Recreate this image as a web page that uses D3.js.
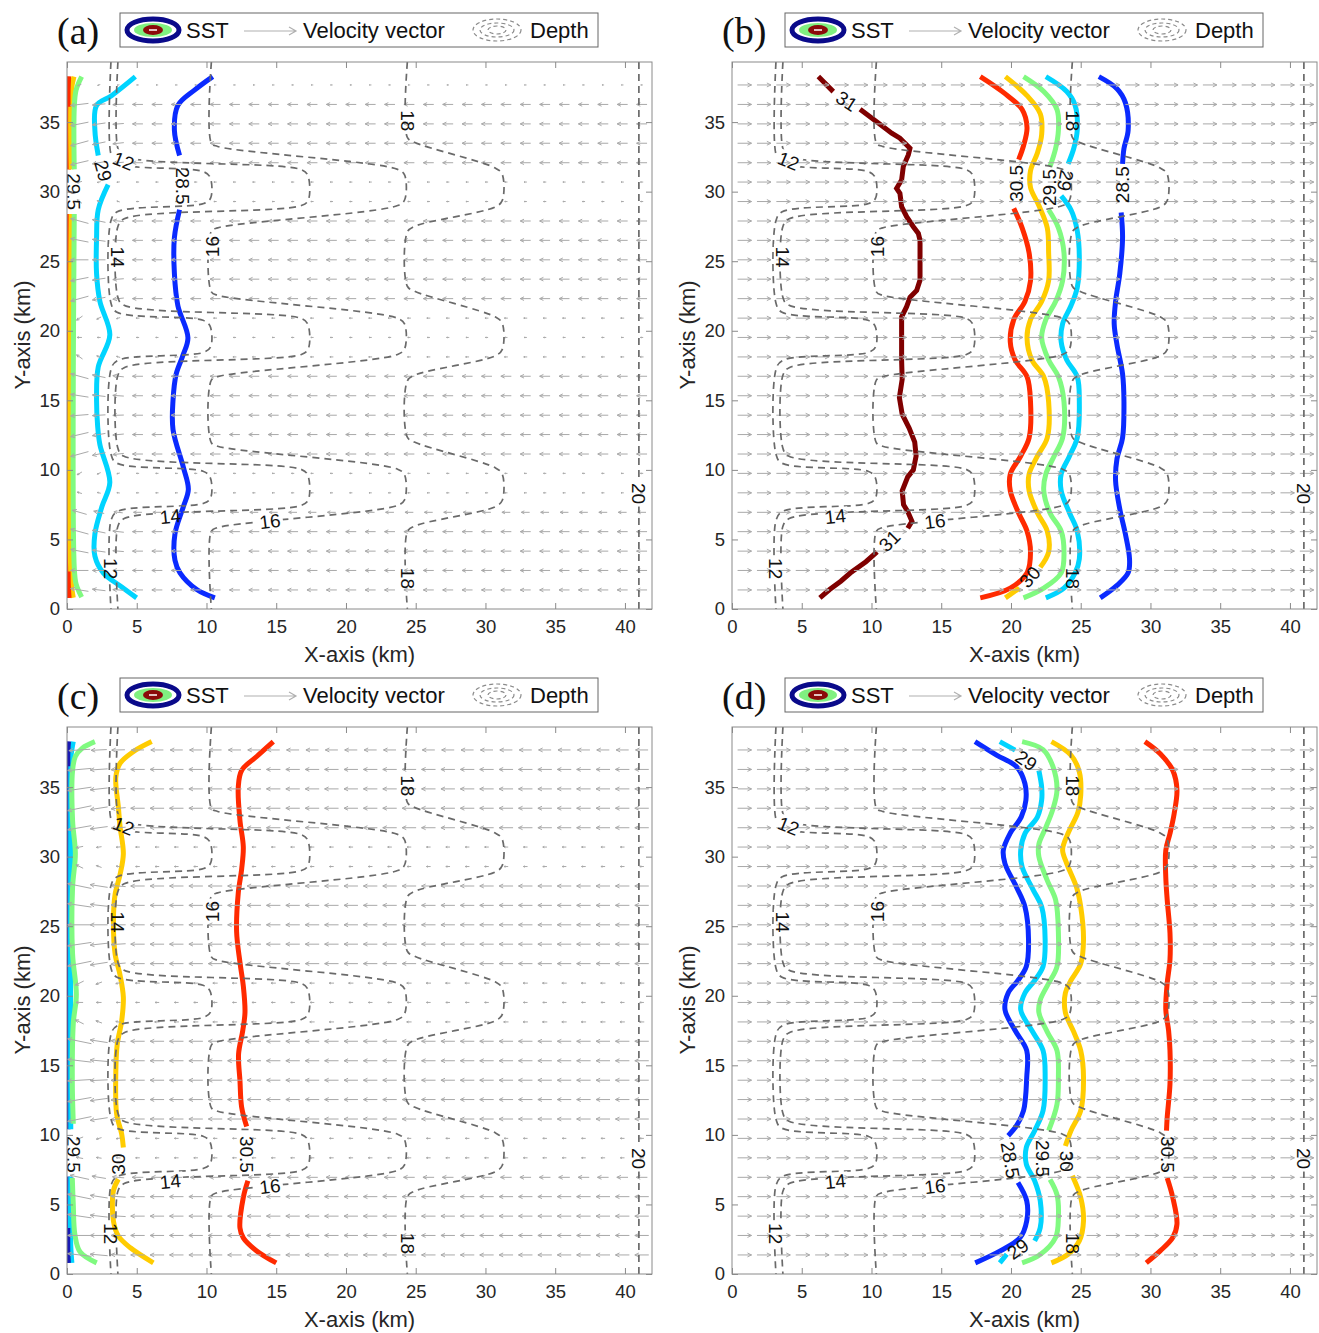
<!DOCTYPE html>
<html>
<head>
<meta charset="utf-8">
<script src="https://cdn.jsdelivr.net/npm/d3@7"></script>
<style>
  body { margin: 0; background: #fff; }
  svg text { font-family: "Liberation Sans", Arial, Helvetica, sans-serif; }
</style>
</head>
<body>
<svg id="viz" width="1319" height="1333"></svg>
<script>
// ---- axes ----
const xMax = 41.94, yMax = 39.32;
const xTicks = [0, 5, 10, 15, 20, 25, 30, 35, 40];
const yTicks = [0, 5, 10, 15, 20, 25, 30, 35];
const panelNames = ['(a)', '(b)', '(c)', '(d)'];

// ---- velocity grid (km) ----
const rowsY = [1.37, 2.77, 4.16, 5.56, 6.95, 8.35, 9.75, 11.14, 12.54, 13.93, 15.33, 16.73, 18.12, 19.52,
  20.91, 22.31, 23.71, 25.10, 26.50, 27.89, 29.29, 30.69, 32.08, 33.48, 34.87, 36.27, 37.67];
const colsX = [0.90, 2.29, 3.68, 5.07, 6.46, 7.85, 9.24, 10.63, 12.02, 13.41, 14.80, 16.19, 17.58, 18.97,
  20.36, 21.75, 23.14, 24.53, 25.92, 27.31, 28.70, 30.09, 31.48, 32.87, 34.26, 35.65, 37.04, 38.43, 39.82, 41.21];
// u per row (km of arrow), negative = toward the coast
const uA = [-0.75, -0.75, -0.75, -0.75, -0.6, -0.2, -0.2, -0.75, -0.75, -0.75, -0.75, -0.75, -0.25, -0.2,
  -0.25, -0.75, -0.75, -0.75, -0.75, -0.75, -0.2, -0.2, -0.75, -0.75, -0.75, -0.75, -0.15];
const uB = [1.0, 1.0, 1.0, 1.0, 1.0, 1.0, 1.0, 1.0, 1.0, 1.0, 1.0, 1.0, 1.0, 1.0,
  1.0, 1.0, 1.0, 1.0, 1.0, 1.0, 1.0, 1.0, 1.0, 1.0, 1.0, 1.0, 1.0];
const uC = [-1.0, -1.0, -1.0, -1.0, -0.8, -0.3, -0.3, -1.0, -1.0, -1.0, -1.0, -1.0, -0.35, -0.3,
  -0.35, -1.0, -1.0, -1.0, -1.0, -1.0, -0.3, -0.3, -1.0, -1.0, -1.0, -1.0, -0.9];
const uD = uB;
// alongshore component near the coast (first columns)
const vA = [0.2, 0.0, 0.25, 0.35, 0.3, 0.1, -0.2, -0.35, -0.3, -0.1, 0.2, 0.35, 0.3, 0.0,
  -0.3, -0.35, -0.25, 0.0, 0.25, 0.35, 0.25, -0.1, -0.3, -0.35, -0.25, -0.15, -0.1];
const vC = vA;
const coastFade = [1, 0.55, 0.25];
const coastGain = [1.7, 1.25, 1.05];

// ---- depth contours (m), vertices in km ----
const depth12 = [[3.15, 39.32],
  [3.15, 32.7], [3.55, 32.05], [9.75, 31.45], [10.25, 31.05], [10.3, 29.55], [9.8, 29.15], [3.6, 28.55], [3.15, 27.9],
  [3.15, 22.0], [3.55, 21.35], [9.75, 20.75], [10.25, 20.35], [10.3, 18.85], [9.8, 18.45], [3.6, 17.85], [3.15, 17.2],
  [3.15, 11.15], [3.55, 10.5], [9.75, 9.9], [10.25, 9.5], [10.3, 8.0], [9.8, 7.6], [3.6, 7.0], [3.15, 6.35],
  [3.15, 0]];
const depth14 = [[3.65, 39.32],
  [3.65, 33.1], [4.05, 32.55], [16.75, 31.6], [17.25, 31.2], [17.3, 29.4], [16.8, 29.0], [4.1, 28.05], [3.65, 27.5],
  [3.65, 22.4], [4.05, 21.85], [16.75, 20.9], [17.25, 20.5], [17.3, 18.7], [16.8, 18.3], [4.1, 17.35], [3.65, 16.8],
  [3.65, 11.55], [4.05, 11.0], [16.75, 10.05], [17.25, 9.65], [17.3, 7.85], [16.8, 7.45], [4.1, 6.5], [3.65, 5.95],
  [3.65, 0]];
const depth16 = [[10.35, 39.32],
  [10.35, 33.5], [10.8, 33.25], [23.7, 31.6], [24.2, 31.2], [24.2, 29.4], [23.7, 29.0], [10.8, 27.4], [10.35, 27.15],
  [10.35, 22.8], [10.8, 22.55], [23.7, 20.9], [24.2, 20.5], [24.2, 18.7], [23.7, 18.3], [10.8, 16.7], [10.35, 16.45],
  [10.35, 11.95], [10.8, 11.7], [23.7, 10.05], [24.2, 9.65], [24.2, 7.85], [23.7, 7.45], [10.8, 5.85], [10.35, 5.6],
  [10.35, 0]];
const depth18 = [[24.4, 39.32],
  [24.4, 33.9], [24.9, 33.55], [30.7, 31.7], [31.2, 31.25], [31.2, 29.35], [30.7, 28.9], [24.9, 27.5], [24.4, 27.1],
  [24.4, 23.2], [24.9, 22.85], [30.7, 21.0], [31.2, 20.55], [31.2, 18.65], [30.7, 18.2], [24.9, 16.8], [24.4, 16.4],
  [24.4, 12.35], [24.9, 12.0], [30.7, 10.15], [31.2, 9.7], [31.2, 7.8], [30.7, 7.35], [24.9, 5.95], [24.4, 5.55],
  [24.4, 0]];
const depth20 = [[41.0, 0], [41.0, 39.32]];
const depthLines = [depth12, depth14, depth16, depth18, depth20];
const depthLabels = [
  { t: '12', x: 4.05, y: 32.2, r: 22 }, { t: '14', x: 3.65, y: 25.3, r: 90 }, { t: '16', x: 10.4, y: 26.05, r: -90 },
  { t: '18', x: 24.4, y: 35.1, r: 90 }, { t: '14', x: 7.4, y: 6.65, r: -6 }, { t: '16', x: 14.55, y: 6.3, r: -7 },
  { t: '12', x: 3.15, y: 2.9, r: 90 }, { t: '18', x: 24.4, y: 2.2, r: 90 }, { t: '20', x: 41.0, y: 8.3, r: 90 }];

// ---- SST contours (deg C), null = label gap ----
// (a)
const a305 = [[0.1, 38.27], [0.1, 31.6], null, [0.1, 28.4], [0.1, 0.8]];
const a305ends = [[0.12, 38.27], [0.08, 37.3], [0.08, 36.1], null, [0.08, 2.7], [0.1, 1.6], [0.15, 0.8]];
const a300 = [[0.5, 38.27], [0.32, 37.3], [0.3, 31.6], null, [0.3, 28.4], [0.3, 2.0], [0.45, 0.8]];
const a295 = [[1.05, 38.27], [0.65, 37.3], [0.52, 36.0], [0.52, 31.6], null, [0.52, 28.4], [0.52, 3.0], [0.65, 1.8], [1.05, 0.85]];
const a290 = [[4.9, 38.27], [3.19, 36.9], [2.12, 36.2], [2.0, 34.4], [2.24, 32.6], null, [2.95, 30.5], [2.24, 28.7],
  [2.12, 26.7], [2.12, 24.1], [2.36, 22.1], [3.07, 19.7], [2.24, 17.4], [2.12, 15.1], [2.2, 13.1], [2.36, 11.8],
  [3.07, 9.1], [2.5, 7.35], [2.0, 5.4], [2.0, 3.8], [2.6, 2.6], [3.9, 1.6], [4.99, 0.8]];
const a285 = [[10.45, 38.27], [9.14, 37.3], [7.95, 36.2], [7.7, 34.4], [8.07, 32.6], null, [8.07, 28.7], [7.7, 26.7],
  [7.7, 24.1], [7.95, 21.8], [8.67, 19.5], [8.3, 18.2], [7.83, 16.9], [7.6, 15.0], [7.6, 12.9], [8.34, 10.2],
  [8.7, 8.6], [8.34, 7.35], [7.74, 5.4], [7.74, 3.5], [8.1, 2.6], [9.3, 1.4], [10.6, 0.8]];
// (b)
const b310 = [[6.19, 38.27], [7.26, 37.19], null, [9.18, 35.92], [10.37, 35.03], [11.45, 34.2], [12.04, 33.84],
  [12.76, 33.12], [12.64, 32.64], [12.28, 31.8], [12.16, 30.84], [11.8, 30.24], [12.04, 29.88], [12.16, 28.92],
  [12.52, 28.2], [13.0, 27.48], [13.36, 27.0], [13.48, 26.5], [13.48, 23.65], [13.24, 22.9], [12.76, 22.4],
  [12.52, 21.73], [12.16, 21.0], [12.16, 17.9], [12.2, 16.5], [12.0, 15.2], [12.2, 14.0], [12.7, 13.0],
  [13.1, 12.0], [13.2, 11.0], [13.0, 10.0], [12.6, 9.5], [12.2, 8.5], [12.3, 7.5], [12.6, 7.0], [12.9, 6.3],
  [12.6, 5.8], null, [10.4, 4.1], [9.6, 3.4], [8.5, 2.6], [7.8, 2.0], [7.0, 1.4], [6.3, 0.8]];
const b305 = [[17.8, 38.27], [19.5, 37.1], [20.8, 35.9], [21.15, 34.6], [20.9, 33.3], [20.55, 32.3], null,
  [20.2, 28.8], [20.8, 27.4], [21.3, 25.6], [21.4, 23.6], [21.0, 22.1], [20.2, 20.8], [19.95, 19.2], [20.3, 17.9],
  [21.15, 16.7], [21.4, 14.9], [21.3, 12.3], [20.7, 11.0], [19.95, 9.7], [19.95, 8.5], [20.55, 6.9], [21.15, 5.6],
  [21.4, 4.1], [21.15, 2.6], [19.95, 1.5], [17.8, 0.8]];
const b300 = [[19.6, 38.27], [21.15, 36.9], [22.1, 35.6], [22.2, 34.1], [21.9, 32.8], [21.4, 31.5], [21.4, 30.3],
  [22.0, 29.0], [22.6, 27.4], [22.7, 25.6], [22.7, 23.6], [22.2, 22.1], [21.4, 20.8], [21.15, 19.5], [21.5, 17.9],
  [22.35, 16.7], [22.7, 14.9], [22.6, 12.3], [21.9, 11.0], [21.3, 9.7], [21.3, 8.5], [21.9, 6.9], [22.6, 5.6],
  [22.7, 4.1], [22.1, 3.0], null, [20.6, 1.5], [19.6, 0.8]];
const b295 = [[20.9, 38.27], [22.35, 37.2], [23.3, 35.9], [23.4, 34.4], [23.2, 33.1], [22.8, 31.8], null,
  [22.7, 28.7], [23.4, 27.4], [23.8, 25.6], [23.7, 23.6], [23.2, 22.1], [22.5, 20.8], [22.2, 19.5], [22.7, 17.9],
  [23.4, 16.7], [23.8, 14.9], [23.7, 12.3], [23.1, 11.0], [22.5, 9.7], [22.35, 8.5], [22.8, 6.9], [23.6, 5.6],
  [23.8, 4.1], [23.6, 2.6], [22.35, 1.5], [20.9, 0.8]];
const b290 = [[22.5, 38.27], [24.0, 37.2], [24.6, 36.2], [24.75, 34.4], [24.5, 33.1], [24.1, 32.0], null,
  [23.6, 29.7], [24.3, 28.7], [24.75, 27.2], [24.9, 25.1], [24.75, 23.1], [24.3, 21.8], [23.7, 20.5], [23.6, 19.2],
  [24.0, 17.9], [24.75, 16.7], [24.9, 14.9], [24.75, 12.3], [24.2, 11.0], [23.6, 9.7], [23.6, 8.5], [24.2, 6.9],
  [24.75, 5.6], [24.9, 3.6], [24.6, 2.6], [23.8, 1.5], [22.5, 0.8]];
const b285 = [[26.3, 38.27], [27.6, 37.4], [28.2, 36.4], [28.4, 34.4], [28.1, 33.1], [28.0, 32.0], null,
  [27.9, 28.5], [28.0, 26.7], [27.8, 24.1], [27.5, 22.1], [27.4, 20.5], [27.6, 19.0], [28.0, 16.9], [28.1, 14.9],
  [28.0, 12.3], [27.6, 10.8], [27.5, 9.2], [27.8, 7.2], [28.2, 5.4], [28.5, 3.6], [28.4, 2.6], [27.6, 1.7], [26.4, 0.8]];
// (c)
const c285 = [[0.1, 38.27], [0.08, 37.0], [0.08, 10.4], null, [0.08, 7.0], [0.08, 1.5], [0.1, 0.8]];
const c285ends = [[0.1, 38.27], [0.06, 37.4], [0.06, 36.5], null, [0.06, 3.3], [0.06, 1.5], [0.1, 0.8]];
const c290 = [[0.45, 38.27], [0.3, 37.3], [0.27, 36.0], [0.27, 10.4], null, [0.27, 7.0], [0.27, 2.0], [0.35, 0.8]];
const c295 = [[2.0, 38.27], [1.1, 37.8], [0.6, 37.2], [0.4, 36.2], [0.4, 32.6], [0.6, 30.2], [0.4, 27.8],
  [0.4, 23.0], [0.67, 20.1], [0.45, 18.0], [0.38, 13.9], [0.45, 10.8], null, [0.38, 6.9], [0.45, 5.0],
  [0.57, 2.8], [0.93, 1.6], [2.13, 0.8]];
const c300 = [[6.07, 38.27], [4.75, 37.54], [3.8, 36.7], [3.5, 35.7], [3.68, 33.6], [3.8, 32.2], [4.04, 30.2],
  [3.8, 28.7], [3.45, 27.3], [3.33, 25.4], [3.45, 23.0], [3.8, 21.5], [4.04, 19.9], [3.92, 18.2], [3.6, 16.5],
  [3.5, 14.5], [3.56, 11.5], [3.92, 10.06], [4.04, 9.1], null, [3.68, 6.82], [3.33, 6.0], [3.33, 3.8],
  [3.68, 2.73], [4.52, 1.9], [6.19, 0.8]];
const c305 = [[14.79, 38.27], [13.6, 37.2], [12.52, 36.2], [12.28, 35.0], [12.4, 32.6], [12.64, 30.7],
  [12.52, 29.1], [12.28, 27.4], [12.16, 24.6], [12.4, 22.4], [12.64, 20.7], [12.76, 18.8], [12.6, 17.5],
  [12.3, 15.8], [12.4, 13.9], [12.52, 12.0], [12.88, 10.6], null, [12.97, 6.7], [12.64, 5.5], [12.4, 3.3],
  [12.64, 2.6], [13.6, 1.66], [15.0, 0.8]];
// (d)
const d285 = [[17.42, 38.27], [18.97, 37.3], [20.4, 36.46], [21.0, 35.26], [21.07, 34.06], [20.74, 32.86],
  [19.93, 31.66], [19.45, 30.46], [19.57, 29.5], [20.4, 27.8], [21.0, 26.4], [21.26, 24.0], [21.1, 22.1],
  [20.5, 21.1], [19.8, 20.2], [19.57, 19.0], [20.3, 17.5], [21.13, 16.06], [21.13, 14.14], [20.9, 11.74],
  [20.4, 10.66], [19.8, 9.94], null, [20.5, 6.58], [21.13, 5.26], [21.13, 3.82], [20.66, 2.62], [19.23, 1.66],
  [17.44, 0.8]];
const d290 = [[19.2, 38.27], [20.3, 37.66], null, [22.0, 36.2], [22.2, 35.0], [22.2, 34.06], [21.9, 32.86],
  [21.0, 31.66], [20.7, 30.46], [20.8, 29.26], [21.6, 27.6], [22.2, 26.4], [22.45, 24.0], [22.3, 22.1],
  [21.7, 21.1], [21.0, 20.2], [20.7, 19.0], [21.5, 17.5], [22.3, 16.06], [22.45, 14.14], [22.3, 11.74],
  [21.7, 10.3], [21.1, 9.1], [21.1, 7.9], [21.7, 6.7], [22.1, 5.26], [22.1, 3.34], [21.7, 2.38], null,
  [19.7, 1.42], [19.2, 0.8]];
const d295 = [[20.8, 38.27], [22.3, 37.7], [23.0, 36.5], [23.3, 34.8], [23.0, 33.4], [22.5, 32.1], [22.0, 30.9],
  [22.0, 30.0], [22.6, 28.3], [23.2, 26.9], [23.4, 24.5], [23.3, 22.1], [22.7, 20.9], [22.1, 19.7], [22.0, 18.8],
  [22.6, 17.4], [23.3, 16.06], [23.4, 14.14], [23.3, 12.2], [22.7, 10.3], null, [22.8, 6.8], [23.3, 5.7],
  [23.4, 4.06], [23.2, 2.62], [22.1, 1.4], [20.8, 0.8]];
const d300 = [[22.9, 38.27], [24.3, 37.3], [24.9, 36.1], [25.0, 34.4], [24.8, 33.2], [24.1, 31.7], [23.7, 30.5],
  [24.0, 29.5], [24.7, 27.8], [25.0, 26.4], [25.2, 24.0], [25.0, 22.3], [24.3, 21.1], [23.9, 20.2], [23.9, 18.8],
  [24.5, 17.4], [25.0, 16.06], [25.2, 14.14], [25.0, 11.74], [24.3, 10.3], [23.9, 9.2], null, [24.4, 7.06],
  [25.0, 5.5], [25.2, 3.82], [24.9, 2.38], [24.1, 1.42], [22.9, 0.8]];
const d305 = [[29.6, 38.27], [30.7, 37.4], [31.6, 36.2], [31.9, 34.8], [31.7, 33.1], [31.4, 31.66], [31.1, 30.46],
  [31.1, 28.5], [31.2, 26.9], [31.4, 24.5], [31.4, 22.6], [31.2, 20.9], [31.1, 19.0], [31.3, 17.5], [31.4, 16.06],
  [31.4, 13.66], [31.2, 11.26], [31.15, 10.3], null, [31.2, 6.9], [31.6, 5.5], [31.9, 3.58], [31.6, 2.62],
  [30.7, 1.66], [29.7, 0.8]];

const sstLabelsA = [{ t: '29.5', x: 0.5, y: 30.0, r: 90 }, { t: '29', x: 2.6, y: 31.5, r: 75 }, { t: '28.5', x: 8.3, y: 30.4, r: 90 }];
const sstLabelsB = [{ t: '31', x: 8.22, y: 36.5, r: 33 }, { t: '31', x: 11.3, y: 4.9, r: -45 },
  { t: '30.5', x: 20.35, y: 30.6, r: -90 }, { t: '29.5', x: 22.75, y: 30.3, r: -90 }, { t: '29', x: 23.9, y: 30.8, r: 100 },
  { t: '28.5', x: 27.95, y: 30.5, r: -90 }, { t: '30', x: 21.35, y: 2.3, r: -50 }];
const sstLabelsC = [{ t: '29.5', x: 0.45, y: 8.6, r: 90 }, { t: '30', x: 3.7, y: 7.9, r: -90 }, { t: '30.5', x: 12.9, y: 8.6, r: 90 }];
const sstLabelsD = [{ t: '29', x: 21.1, y: 36.9, r: 35 }, { t: '28.5', x: 19.95, y: 8.2, r: 80 },
  { t: '29.5', x: 22.3, y: 8.3, r: 90 }, { t: '30', x: 24.0, y: 8.1, r: 90 }, { t: '30.5', x: 31.25, y: 8.6, r: 90 },
  { t: '29', x: 20.5, y: 1.8, r: -35 }];

const col = { 31: '#7f0000', 30.5: '#ff2a00', 30: '#ffcc00', 29.5: '#80fa80', 29: '#00d4ff', 28.5: '#0a2aff', dark: '#1a1ab4' };

const panels = [
  { l: 67, t: 62, u: uA, v: vA, labels: sstLabelsA,
    lines: [[a305, col[30.5]], [a300, col[30]], [a305ends, col[30.5]], [a295, col[29.5]], [a290, col[29]], [a285, col[28.5]]] },
  { l: 732, t: 62, u: uB, v: null, labels: sstLabelsB,
    lines: [[b310, col[31]], [b305, col[30.5]], [b300, col[30]], [b295, col[29.5]], [b290, col[29]], [b285, col[28.5]]] },
  { l: 67, t: 727, u: uC, v: vC, labels: sstLabelsC,
    lines: [[c285, col.dark], [c290, col[29]], [c285ends, col.dark], [c295, col[29.5]], [c300, col[30]], [c305, col[30.5]]] },
  { l: 732, t: 727, u: uD, v: null, labels: sstLabelsD,
    lines: [[d285, col[28.5]], [d290, col[29]], [d295, col[29.5]], [d300, col[30]], [d305, col[30.5]]] }
];

const PW = 585, PH = 547;
const svg = d3.select('#viz');
const axisGray = '#8a8a8a';

panels.forEach(function (p, i) {
  const x = d3.scaleLinear().domain([0, xMax]).range([p.l, p.l + PW]);
  const y = d3.scaleLinear().domain([0, yMax]).range([p.t + PH, p.t]);
  const g = svg.append('g');

  const clipId = 'clip' + i;
  g.append('clipPath').attr('id', clipId).append('rect')
    .attr('x', p.l).attr('y', p.t).attr('width', PW).attr('height', PH);

  const plot = g.append('g').attr('clip-path', 'url(#' + clipId + ')');

  // SST contours
  const sstLine = d3.line()
    .defined(function (d) { return d !== null; })
    .x(function (d) { return x(d[0]); })
    .y(function (d) { return y(d[1]); });
  p.lines.forEach(function (ln) {
    sstLine.curve(ln[0] === b310 ? d3.curveLinear : d3.curveCatmullRom.alpha(0.5));
    plot.append('path')
      .attr('d', sstLine(ln[0]))
      .attr('fill', 'none')
      .attr('stroke', ln[1])
      .attr('stroke-width', 5);
  });

  // velocity vectors
  const arrows = plot.append('g').attr('stroke', '#a9a9a9').attr('stroke-width', 1).attr('fill', 'none');
  rowsY.forEach(function (ry, j) {
    colsX.forEach(function (cx, k) {
      let u = p.u[j], v = 0;
      if (p.v && k < coastFade.length) {
        v = p.v[j] * coastFade[k];
        u = u * coastGain[k];
      }
      const x0 = x(cx - u / 2), y0 = y(ry - v / 2);
      const x1 = x(cx + u / 2), y1 = y(ry + v / 2);
      const len = Math.hypot(x1 - x0, y1 - y0);
      const ang = Math.atan2(y1 - y0, x1 - x0);
      const h = Math.min(4.5, len * 0.4);
      const a1 = ang + Math.PI - 0.45, a2 = ang + Math.PI + 0.45;
      arrows.append('path').attr('d',
        'M' + x0 + ',' + y0 + 'L' + x1 + ',' + y1 +
        'M' + (x1 + h * Math.cos(a1)) + ',' + (y1 + h * Math.sin(a1)) + 'L' + x1 + ',' + y1 +
        'L' + (x1 + h * Math.cos(a2)) + ',' + (y1 + h * Math.sin(a2)));
    });
  });

  // depth contours, broken under their labels
  const maskId = 'mask' + i;
  const mask = g.append('mask').attr('id', maskId).attr('maskUnits', 'userSpaceOnUse')
    .attr('x', 0).attr('y', 0).attr('width', 1319).attr('height', 1333);
  mask.append('rect').attr('x', 0).attr('y', 0).attr('width', 1319).attr('height', 1333).attr('fill', '#fff');
  depthLabels.forEach(function (d) {
    const w = d.t.length * 11 + 4;
    mask.append('rect')
      .attr('x', -w / 2).attr('y', -9).attr('width', w).attr('height', 18)
      .attr('transform', 'translate(' + x(d.x) + ',' + y(d.y) + ') rotate(' + d.r + ')')
      .attr('fill', '#000');
  });
  const depthLine = d3.line()
    .x(function (d) { return x(d[0]); })
    .y(function (d) { return y(d[1]); })
    .curve(d3.curveCatmullRom.alpha(0.5));
  const dg = plot.append('g').attr('mask', 'url(#' + maskId + ')');
  depthLines.forEach(function (dl) {
    dg.append('path').attr('d', depthLine(dl))
      .attr('fill', 'none').attr('stroke', '#6a6a6a')
      .attr('stroke-width', 1.7).attr('stroke-dasharray', '7,5');
  });
  depthLabels.concat(p.labels).forEach(function (d) {
    plot.append('text').text(d.t)
      .attr('transform', 'translate(' + x(d.x) + ',' + y(d.y) + ') rotate(' + d.r + ')')
      .attr('text-anchor', 'middle').attr('dy', '0.35em')
      .attr('font-size', 19).attr('fill', '#111');
  });

  // axes
  const ax = [
    g.append('g').attr('transform', 'translate(0,' + (p.t + PH) + ')')
      .call(d3.axisBottom(x).tickValues(xTicks).tickSizeInner(-6).tickSizeOuter(0).tickPadding(11)),
    g.append('g').attr('transform', 'translate(' + p.l + ',0)')
      .call(d3.axisLeft(y).tickValues(yTicks).tickSizeInner(-6).tickSizeOuter(0).tickPadding(7)),
    g.append('g').attr('transform', 'translate(0,' + p.t + ')')
      .call(d3.axisTop(x).tickValues(xTicks).tickSizeInner(-6).tickSizeOuter(0).tickFormat('')),
    g.append('g').attr('transform', 'translate(' + (p.l + PW) + ',0)')
      .call(d3.axisRight(y).tickValues(yTicks).tickSizeInner(-6).tickSizeOuter(0).tickFormat(''))
  ];
  ax.forEach(function (a) {
    a.select('.domain').remove();
    a.selectAll('line').attr('stroke', axisGray);
    a.selectAll('text').attr('font-size', 18.5).attr('fill', '#262626')
      .style('font-family', '"Liberation Sans", Arial, sans-serif');
  });
  g.append('rect').attr('x', p.l).attr('y', p.t).attr('width', PW).attr('height', PH)
    .attr('fill', 'none').attr('stroke', axisGray).attr('stroke-width', 1);

  g.append('text').text('X-axis (km)')
    .attr('x', p.l + PW / 2).attr('y', p.t + PH + 53)
    .attr('text-anchor', 'middle').attr('font-size', 22).attr('fill', '#262626');
  g.append('text').text('Y-axis (km)')
    .attr('transform', 'translate(' + (p.l - 37) + ',' + (p.t + 273) + ') rotate(-90)')
    .attr('text-anchor', 'middle').attr('font-size', 22).attr('fill', '#262626');

  // panel letter
  g.append('text').text(panelNames[i])
    .attr('x', p.l - 10).attr('y', p.t - 18)
    .style('font-family', '"Liberation Serif", "Times New Roman", serif')
    .attr('font-size', 38).attr('fill', '#111');

  // legend
  const lg = g.append('g').attr('transform', 'translate(' + (p.l + 53) + ',' + (p.t - 49) + ')');
  lg.append('rect').attr('width', 478).attr('height', 34).attr('fill', '#fff')
    .attr('stroke', '#666').attr('stroke-width', 1);
  lg.append('ellipse').attr('cx', 33).attr('cy', 17).attr('rx', 26).attr('ry', 11)
    .attr('fill', '#fff').attr('stroke', '#0a0a8a').attr('stroke-width', 5);
  lg.append('ellipse').attr('cx', 33).attr('cy', 17).attr('rx', 19).attr('ry', 7)
    .attr('fill', '#80f080');
  lg.append('ellipse').attr('cx', 33).attr('cy', 17).attr('rx', 10).attr('ry', 5)
    .attr('fill', '#8b0a0a');
  lg.append('line').attr('x1', 29).attr('x2', 37).attr('y1', 17).attr('y2', 17)
    .attr('stroke', '#fff').attr('stroke-width', 1.5);
  lg.append('text').text('SST').attr('x', 66).attr('y', 25).attr('font-size', 22).attr('fill', '#111');
  lg.append('path').attr('d', 'M124,18L176,18M169,14L176,18L169,22')
    .attr('fill', 'none').attr('stroke', '#b0b0b0').attr('stroke-width', 1.2);
  lg.append('text').text('Velocity vector').attr('x', 183).attr('y', 25).attr('font-size', 22).attr('fill', '#111');
  [[24, 11], [17, 7], [9, 4]].forEach(function (e) {
    lg.append('ellipse').attr('cx', 377).attr('cy', 17).attr('rx', e[0]).attr('ry', e[1])
      .attr('fill', 'none').attr('stroke', '#8a8a8a').attr('stroke-width', 1.2).attr('stroke-dasharray', '4,3');
  });
  lg.append('text').text('Depth').attr('x', 410).attr('y', 25).attr('font-size', 22).attr('fill', '#111');
});
</script>
</body>
</html>
